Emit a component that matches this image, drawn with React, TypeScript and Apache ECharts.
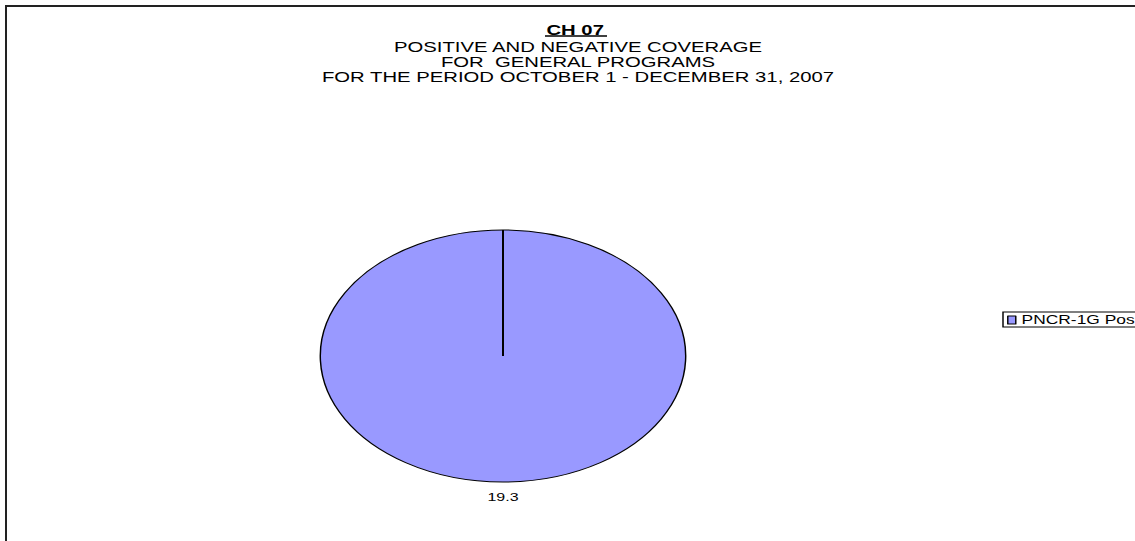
import React, { useEffect, useRef } from "react";
import * as echarts from "echarts";

const sliceNames: string[] = ["PNCR-1G Pos"];
const sliceValues: number[] = [19.3];
const sliceColors: string[] = ["#9999FF"];

const titleMain = "CH 07 ";
const titleLines: string[] = [
  "POSITIVE AND NEGATIVE COVERAGE",
  "FOR  GENERAL PROGRAMS",
  "FOR THE PERIOD OCTOBER 1 - DECEMBER 31, 2007",
];

const PAGE_W = 1135;
const PAGE_H = 541;
const SX = 1.45; // horizontal stretch of the original picture
const CW = PAGE_W / SX;

export default function App() {
  const ref = useRef<HTMLDivElement>(null);

  useEffect(() => {
    if (!ref.current) return;
    const chart = echarts.init(ref.current, undefined, { renderer: "svg" });
    const cx = 503 / SX;
    const cy = 356;
    const r = 126;
    const titleX = 578 / SX;
    const titleYs = [47, 62, 77];

    const graphic: any[] = [
      {
        type: "text",
        x: titleX,
        y: 30,
        style: {
          text: titleMain,
          font: "bold 14px 'Liberation Sans', Arial, sans-serif",
          fill: "#000",
          align: "center",
          verticalAlign: "middle",
        },
      },
      {
        type: "line",
        shape: { x1: 545 / SX, y1: 36, x2: 607 / SX, y2: 36 },
        style: { stroke: "#000", lineWidth: 1.5 },
      },
      ...titleLines.map((t, i) => ({
        type: "text",
        x: titleX,
        y: titleYs[i],
        style: {
          text: t,
          font: "14px 'Liberation Sans', Arial, sans-serif",
          fill: "#000",
          align: "center",
          verticalAlign: "middle",
        },
      })),
      {
        type: "line",
        z: 10,
        shape: { x1: cx, y1: cy, x2: cx, y2: cy - r },
        style: { stroke: "#000", lineWidth: 1.4 },
      },
    ];

    chart.setOption({
      animation: false,
      backgroundColor: "#fff",
      graphic,
      legend: {
        data: sliceNames,
        left: 1003 / SX,
        top: 312,
        orient: "vertical",
        padding: [2, 1, 1, 2.8],
        borderColor: "#000",
        borderWidth: 1,
        borderRadius: 0,
        icon: "rect",
        itemWidth: 8 / SX,
        itemHeight: 8,
        itemGap: 4,
        itemStyle: { borderColor: "#000", borderWidth: 1 },
        textStyle: {
          fontFamily: "'Liberation Sans', Arial, sans-serif",
          fontSize: 12,
          color: "#000",
          padding: [0, 0, 0, -1],
        },
      },
      series: [
        {
          type: "pie",
          name: "coverage",
          center: [cx, cy],
          radius: r,
          startAngle: 90,
          clockwise: true,
          data: sliceNames.map((n, i) => ({
            name: n,
            value: sliceValues[i],
            itemStyle: { color: sliceColors[i] },
          })),
          itemStyle: { borderColor: "#000", borderWidth: 1 },
          emphasis: { disabled: true },
          label: {
            show: true,
            position: "outside",
            formatter: (p: any) => String(p.value),
            fontFamily: "'Liberation Sans', Arial, sans-serif",
            fontSize: 11,
            color: "#000",
          },
          labelLine: { show: false, length: 8, length2: 0 },
          labelLayout: () => ({
            x: cx,
            y: 497,
            align: "center",
            verticalAlign: "middle",
          }),
        },
      ],
    });
    return () => chart.dispose();
  }, []);

  return (
    <div
      style={{
        position: "absolute",
        left: 0,
        top: 0,
        width: PAGE_W,
        height: PAGE_H,
        overflow: "hidden",
        background: "#fff",
      }}
    >
      <div
        ref={ref}
        style={{
          position: "absolute",
          left: 0,
          top: 0,
          width: CW,
          height: PAGE_H,
          transform: `scaleX(${SX})`,
          transformOrigin: "0 0",
        }}
      />
      <div
        style={{
          position: "absolute",
          left: 5,
          top: 5,
          width: 1300,
          height: 700,
          borderTop: "2px solid #222",
          borderLeft: "2px solid #222",
          pointerEvents: "none",
        }}
      />
    </div>
  );
}
